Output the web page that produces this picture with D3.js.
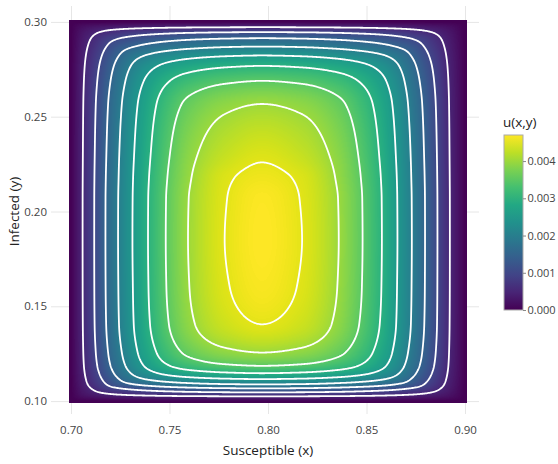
<!DOCTYPE html>
<html>
<head>
<meta charset="utf-8">
<script src="https://cdn.jsdelivr.net/npm/d3@7"></script>
<style>
body { margin: 0; background: #fff; }
svg text { font-family: "Open Sans", "DejaVu Sans", sans-serif; }
</style>
</head>
<body>
<script>
(function(){

var xNodes = [0.700, 0.7059, 0.7118, 0.7175, 0.7239, 0.7312, 0.7391, 0.7481, 0.7594, 0.7780, 0.7970,
              0.8173, 0.8359, 0.8480, 0.8578, 0.8657, 0.8730, 0.8797, 0.8860, 0.8923, 0.900];
var yNodes = [0.100, 0.1025, 0.1046, 0.1067, 0.1088, 0.1116, 0.1147, 0.1186, 0.1256, 0.1405, 0.160, 0.185,
              0.207, 0.218, 0.2259, 0.2567, 0.2689, 0.2768, 0.2823, 0.2870, 0.2914, 0.2946, 0.2972, 0.300];

//u(x,y) in units of 1e-4, one row per yNode (bottom to top), one column per xNode
var uGrid = [
    [0,0,0,0,0,0,0,0,0,0,0,0,0,0,0,0,0,0,0,0,0],
    [0,1.78,2.62,3.18,3.62,3.97,4.26,4.51,4.72,4.91,5,4.91,4.72,4.51,4.26,3.97,3.62,3.18,2.62,1.78,0],
    [0,2.62,4.33,5.66,6.70,7.54,8.23,8.83,9.36,9.83,10,9.83,9.36,8.83,8.23,7.54,6.70,5.66,4.33,2.62,0],
    [0,3.18,5.66,8.04,9.75,11.10,12.20,13.15,13.97,14.71,15,14.71,13.97,13.15,12.20,11.10,9.75,8.04,5.66,3.18,0],
    [0,3.62,6.70,9.75,12.76,14.74,16.31,17.60,18.69,19.66,20,19.66,18.69,17.60,16.31,14.74,12.76,9.75,6.70,3.62,0],
    [0,3.97,7.54,11.10,14.74,18.21,20.39,22.10,23.44,24.58,25,24.58,23.44,22.10,20.39,18.21,14.74,11.10,7.54,3.97,0],
    [0,4.26,8.23,12.20,16.31,20.39,23.51,25.95,27.84,29.41,30,29.41,27.84,25.95,23.51,20.39,16.31,12.20,8.23,4.26,0],
    [0,4.51,8.83,13.15,17.60,22.10,25.95,29.39,32.08,34.25,35,34.25,32.08,29.39,25.95,22.10,17.60,13.15,8.83,4.51,0],
    [0,4.72,9.36,13.97,18.69,23.44,27.84,32.08,35.86,38.93,40,38.93,35.86,32.08,27.84,23.44,18.69,13.97,9.36,4.72,0],
    [0,4.91,9.83,14.71,19.66,24.58,29.41,34.25,38.93,43.35,45,43.35,38.93,34.25,29.41,24.58,19.66,14.71,9.83,4.91,0],
    [0,4.98,9.96,14.93,19.90,24.86,29.86,34.84,39.76,44.62,46.53,44.62,39.76,34.84,29.86,24.86,19.90,14.93,9.96,4.98,0],
    [0,5,10,15,20,25,30,35,40,45,47,45,40,35,30,25,20,15,10,5,0],
    [0,4.99,9.98,14.97,19.95,24.94,29.94,34.92,39.88,44.81,46.77,44.81,39.88,34.92,29.94,24.94,19.95,14.97,9.98,4.99,0],
    [0,4.95,9.91,14.85,19.80,24.78,29.70,34.60,39.40,44.40,45.90,44.40,39.40,34.60,29.70,24.78,19.80,14.85,9.91,4.95,0],
    [0,4.91,9.83,14.71,19.66,24.58,29.41,34.25,38.93,43.35,45,43.35,38.93,34.25,29.41,24.58,19.66,14.71,9.83,4.91,0],
    [0,4.72,9.36,13.97,18.69,23.44,27.84,32.08,35.86,38.93,40,38.93,35.86,32.08,27.84,23.44,18.69,13.97,9.36,4.72,0],
    [0,4.51,8.83,13.15,17.60,22.10,25.95,29.39,32.08,34.25,35,34.25,32.08,29.39,25.95,22.10,17.60,13.15,8.83,4.51,0],
    [0,4.26,8.23,12.20,16.31,20.39,23.51,25.95,27.84,29.41,30,29.41,27.84,25.95,23.51,20.39,16.31,12.20,8.23,4.26,0],
    [0,3.97,7.54,11.10,14.74,18.21,20.39,22.10,23.44,24.58,25,24.58,23.44,22.10,20.39,18.21,14.74,11.10,7.54,3.97,0],
    [0,3.62,6.70,9.75,12.76,14.74,16.31,17.60,18.69,19.66,20,19.66,18.69,17.60,16.31,14.74,12.76,9.75,6.70,3.62,0],
    [0,3.18,5.66,8.04,9.75,11.10,12.20,13.15,13.97,14.71,15,14.71,13.97,13.15,12.20,11.10,9.75,8.04,5.66,3.18,0],
    [0,2.62,4.33,5.66,6.70,7.54,8.23,8.83,9.36,9.83,10,9.83,9.36,8.83,8.23,7.54,6.70,5.66,4.33,2.62,0],
    [0,1.78,2.62,3.18,3.62,3.97,4.26,4.51,4.72,4.91,5,4.91,4.72,4.51,4.26,3.97,3.62,3.18,2.62,1.78,0],
    [0,0,0,0,0,0,0,0,0,0,0,0,0,0,0,0,0,0,0,0,0]
];
var uUnit = 1e-4;

var contourLevels = [0.0005, 0.0010, 0.0015, 0.0020, 0.0025, 0.0030, 0.0035, 0.0040, 0.0045];
var xTicks = [0.70, 0.75, 0.80, 0.85, 0.90];
var yTicks = [0.10, 0.15, 0.20, 0.25, 0.30];
var cbTicks = [0, 0.001, 0.002, 0.003, 0.004];

window.onload = drawChart();

//monotone cubic (Fritsch-Carlson) through the nodes, used to shade between them
function monotone(xs, ys){
    var n = xs.length, d = [], m = [], k;
    for (k=0; k<n-1; k++) d.push((ys[k+1]-ys[k])/(xs[k+1]-xs[k]));
    m[0] = d[0]; m[n-1] = d[n-2];
    for (k=1; k<n-1; k++){
        if (d[k-1]*d[k] <= 0) m[k] = 0;
        else {
            var h0 = xs[k]-xs[k-1], h1 = xs[k+1]-xs[k];
            m[k] = 3*(h0+h1)/((2*h1+h0)/d[k-1] + (h1+2*h0)/d[k]);
        }
    }
    return function(v){
        if (v <= xs[0]) return ys[0];
        if (v >= xs[n-1]) return ys[n-1];
        var i = Math.min(d3.bisectRight(xs, v) - 1, n-2);
        var h = xs[i+1]-xs[i], t = (v-xs[i])/h, t2 = t*t, t3 = t2*t;
        return (2*t3-3*t2+1)*ys[i] + (t3-2*t2+t)*h*m[i] + (-2*t3+3*t2)*ys[i+1] + (t3-t2)*h*m[i+1];
    };
}

function drawChart(){
    var width = 558, height = 464;
    var left = 69, right = 467, top = 20, bottom = 403;

    var svg = d3.select("body").append("svg")
        .attr("width", width)
        .attr("height", height);

    var x = d3.scaleLinear().domain([0.699, 0.901]).range([left, right]);
    var y = d3.scaleLinear().domain([0.099, 0.301]).range([bottom, top]);

    //gridlines + tick labels
    var xAxis = svg.append("g")
        .attr("transform", "translate(0,414)")
        .call(d3.axisBottom(x).tickValues(xTicks).tickFormat(d3.format(".2f"))
            .tickSize(-408).tickPadding(12));
    var yAxis = svg.append("g")
        .attr("transform", "translate(51,0)")
        .call(d3.axisLeft(y).tickValues(yTicks).tickFormat(d3.format(".2f"))
            .tickSize(-428).tickPadding(4));
    [xAxis, yAxis].forEach(function(ax){
        ax.select(".domain").remove();
        ax.selectAll("line").attr("stroke", "#e6e6e6");
        ax.selectAll("text").attr("fill", "#444").style("font-size", "11.5px");
    });

    //sample the surface on the pixel grid of the plot area
    var w = right - left, h = bottom - top;
    var rowSplines = uGrid.map(function(row){ return monotone(xNodes, row); });
    var values = new Float64Array(w*h);
    for (var i=0; i<w; i++){
        var xv = Math.max(0.7, Math.min(0.9, x.invert(left + i + 0.5)));
        var col = rowSplines.map(function(s){ return s(xv); });
        var colSpline = monotone(yNodes, col);
        for (var j=0; j<h; j++){
            var yv = Math.max(0.1, Math.min(0.3, y.invert(top + j + 0.5)));
            values[j*w + i] = colSpline(yv) * uUnit;
        }
    }

    var uMax = d3.max(uGrid, function(r){ return d3.max(r); }) * uUnit;
    var color = d3.scaleSequential(d3.interpolateViridis).domain([0, uMax]);

    var canvas = document.createElement("canvas");
    canvas.width = w; canvas.height = h;
    var ctx = canvas.getContext("2d");
    var img = ctx.createImageData(w, h);
    for (var p=0; p<w*h; p++){
        var c = d3.rgb(color(values[p]));
        img.data[4*p] = c.r; img.data[4*p+1] = c.g; img.data[4*p+2] = c.b; img.data[4*p+3] = 255;
    }
    ctx.putImageData(img, 0, 0);

    svg.append("image")
        .attr("x", left).attr("y", top)
        .attr("width", w).attr("height", h)
        .attr("href", canvas.toDataURL());

    //white contour lines
    var contours = d3.contours().size([w, h]).thresholds(contourLevels)(values);
    var path = d3.geoPath(d3.geoIdentity().translate([left, top]));
    svg.selectAll(".contour")
        .data(contours)
        .enter()
        .append("path")
        .attr("class", "contour")
        .attr("d", path)
        .attr("fill", "none")
        .attr("stroke", "#fff")
        .attr("stroke-width", 1.8)
        .attr("stroke-linejoin", "round");

    //axis titles
    svg.append("text")
        .attr("x", (left + right)/2).attr("y", 455)
        .attr("text-anchor", "middle")
        .attr("fill", "#222")
        .style("font-size", "13.5px")
        .text("Susceptible (x)");
    svg.append("text")
        .attr("transform", "translate(18.5," + ((top + bottom)/2) + ") rotate(-90)")
        .attr("text-anchor", "middle")
        .attr("fill", "#222")
        .style("font-size", "13.5px")
        .text("Infected (y)");

    //colorbar
    var cb = d3.scaleLinear().domain([0, uMax]).range([310, 135]);
    var grad = svg.append("defs").append("linearGradient")
        .attr("id", "cbGrad")
        .attr("x1", 0).attr("y1", 1).attr("x2", 0).attr("y2", 0);
    d3.range(0, 1.0001, 0.1).forEach(function(t){
        grad.append("stop").attr("offset", t).attr("stop-color", d3.interpolateViridis(t));
    });
    svg.append("rect")
        .attr("x", 504).attr("y", cb(uMax))
        .attr("width", 19).attr("height", cb(0) - cb(uMax))
        .attr("fill", "url(#cbGrad)")
        .attr("stroke", "#aaa")
        .attr("stroke-width", 1);
    var cbAxis = svg.append("g")
        .attr("transform", "translate(523,0)")
        .call(d3.axisRight(cb).tickValues(cbTicks).tickFormat(d3.format(".3f"))
            .tickSize(3).tickPadding(1.5));
    cbAxis.select(".domain").remove();
    cbAxis.selectAll("line").attr("stroke", "#888");
    cbAxis.selectAll("text").attr("fill", "#444").style("font-size", "11px");

    svg.append("text")
        .attr("x", 503).attr("y", 127)
        .attr("fill", "#222")
        .style("font-size", "13.5px")
        .text("u(x,y)");
};

})();
</script>
</body>
</html>
